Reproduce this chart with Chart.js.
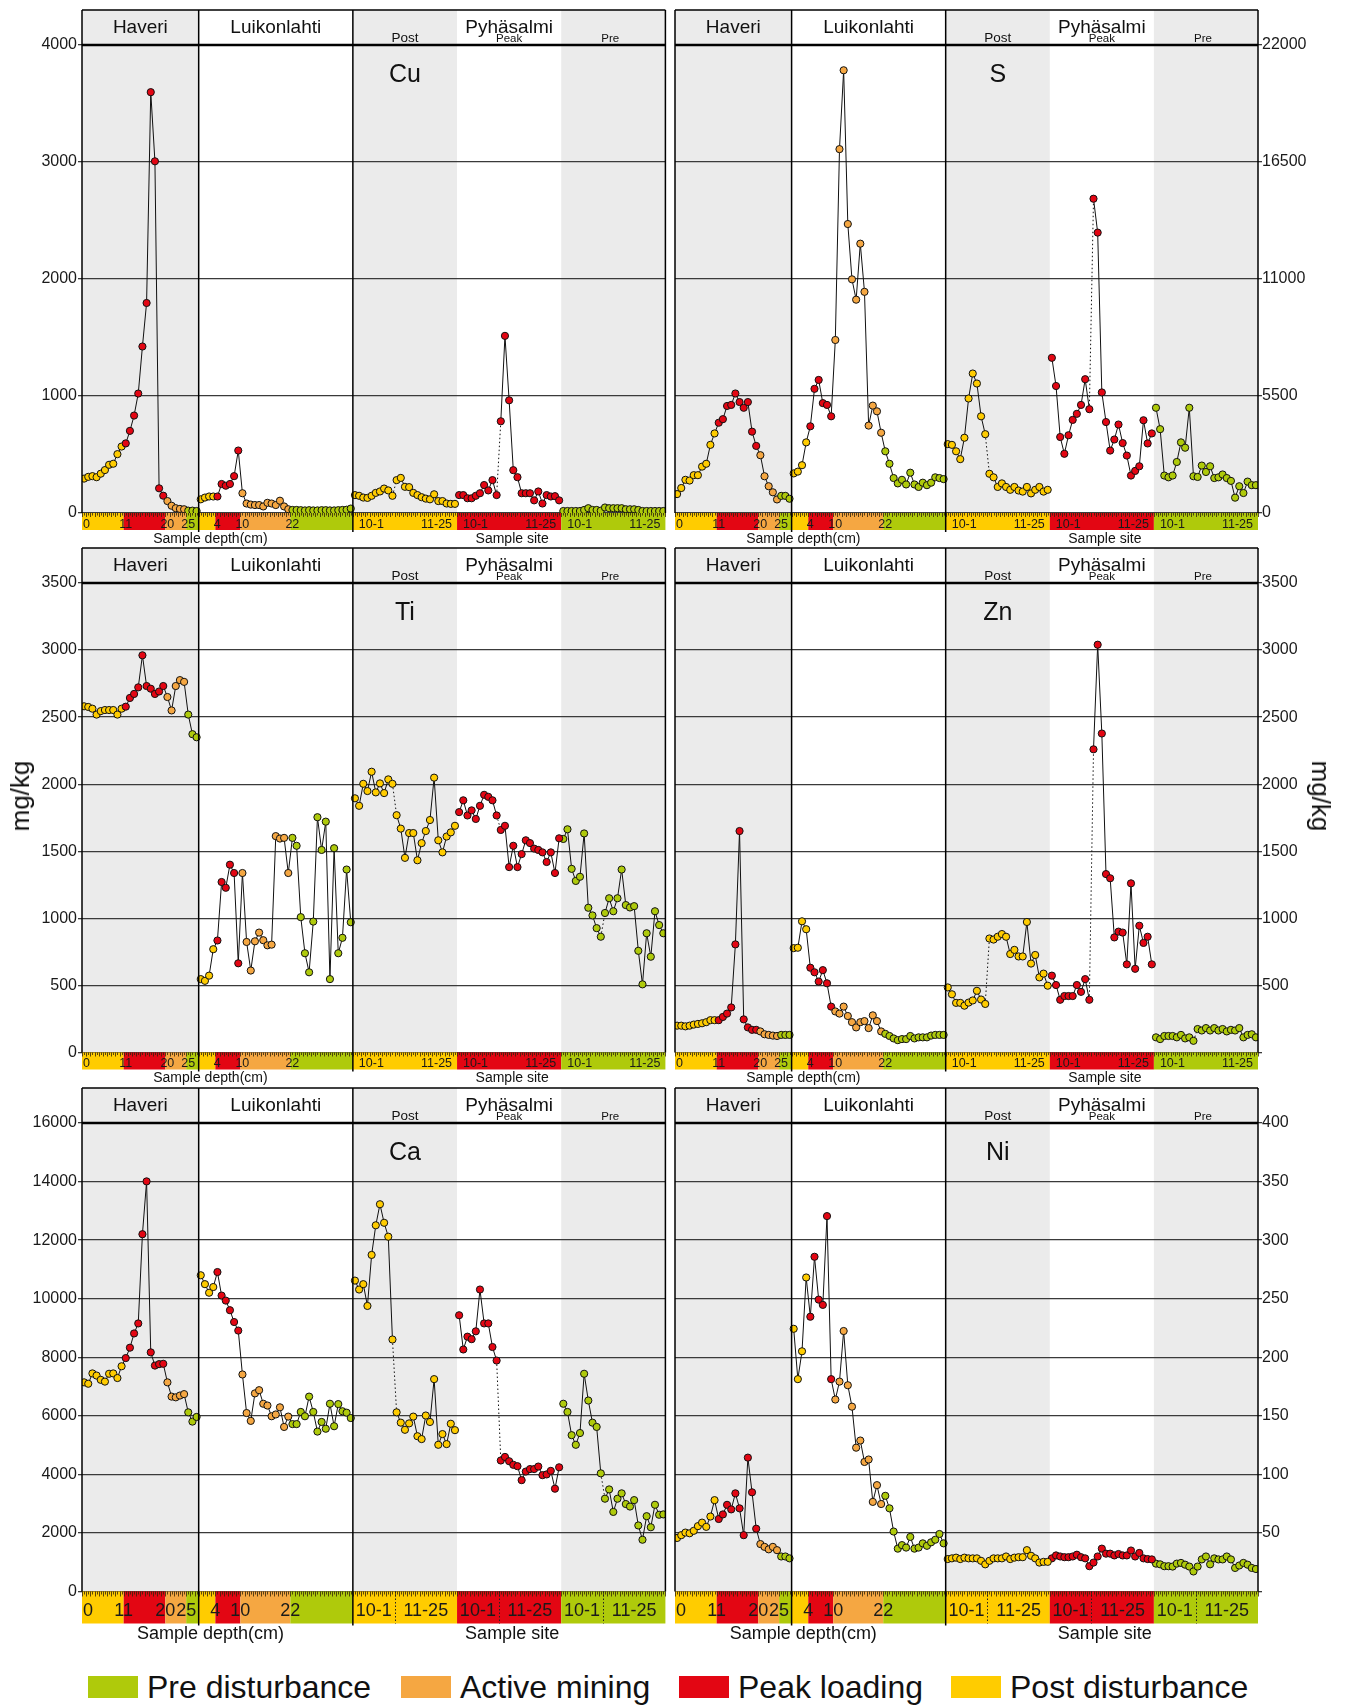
<!DOCTYPE html>
<html>
<head>
<meta charset="utf-8">
<title>Sediment element profiles</title>
<script src="https://cdn.jsdelivr.net/npm/chart.js@4.4.0/dist/chart.umd.min.js"></script>
<style>
  html, body { margin: 0; padding: 0; background: #fff; }
  #page { position: relative; width: 1348px; height: 1705px; overflow: hidden; font-family: Arial, "Liberation Sans", sans-serif; color: #111; }
  #page canvas { position: absolute; }
  .unit { position: absolute; font-size: 26px; white-space: nowrap; line-height: 26px; }
  .legend-item { position: absolute; top: 1676px; height: 22px; }
  .legend-swatch { position: absolute; left: 0; top: 0; width: 50px; height: 22px; }
  .legend-label { position: absolute; left: 59px; top: -5px; font-size: 32px; line-height: 32px; white-space: nowrap; }
</style>
</head>
<body>
<div id="page">
  <div class="unit" style="left:20px; top:796px; transform: translate(-50%, -50%) rotate(-90deg);">mg/kg</div>
  <div class="unit" style="left:1321px; top:796px; transform: translate(-50%, -50%) rotate(90deg);">mg/kg</div>
</div>
<script>
// Categories
const sites = ['Haveri', 'Luikonlahti', 'Pyhäsalmi'];
const pyhaPhases = ['Post', 'Peak', 'Pre'];
const legendLabels = ['Pre disturbance', 'Active mining', 'Peak loading', 'Post disturbance'];
const legendKeys = ['pre', 'active', 'peak', 'post'];

// samples per phase down the core: post, peak, active, pre
const haveriPhaseCounts = [10, 10, 5, 3];
const luikPhaseCounts = [4, 6, 12, 15];
// depth (cm) where each phase starts
const haveriDepthTicks = ['0', '11', '20', '25'];
const luikDepthTicks = ['', '4', '10', '22'];
// each Pyhäsalmi phase: samples of site 10, then site 11
const pyhaSiteCounts = [10, 15];
const pyhaSiteTicks = ['10-1', '11-25'];

// Cu
const cuHaveri = [294, 309, 315, 306, 336, 367, 412, 421, 503, 568, 595, 702, 833, 1021, 1423, 1795, 3597, 3006, 211, 148, 102, 62, 41, 35, 32, 20, 20, 17];
const cuLuik = [117, 132, 141, 141, 141, 248, 233, 248, 315, 534, 169, 81, 72, 68, 68, 56, 87, 81, 68, 105, 56, 32, 26, 26, 24, 22, 24, 22, 22, 24, 24, 22, 22, 24, 26, 28, 38];
const cuPost = [153, 147, 132, 129, 147, 172, 184, 209, 193, 147, 281, 300, 224, 221, 172, 153, 135, 123, 117, 160, 102, 102, 81, 78, 78];
const cuPeak = [153, 153, 126, 126, 147, 169, 239, 193, 281, 153, 784, 1514, 963, 366, 306, 169, 169, 169, 108, 184, 81, 153, 141, 144, 108];
const cuPre = [17, 17, 17, 17, 17, 26, 41, 26, 26, 20, 47, 41, 41, 41, 41, 32, 32, 32, 26, 17, 17, 17, 17, 17, 17];

// S
const sHaveri = [889, 1174, 1560, 1526, 1778, 1778, 2180, 2314, 3203, 3740, 4243, 4411, 5031, 5081, 5618, 5215, 4947, 5215, 3824, 3153, 2717, 1727, 1258, 973, 637, 805, 805, 671];
const sLuik = [1861, 1945, 2247, 3320, 4075, 5836, 6255, 5165, 5081, 4545, 8133, 17105, 20812, 13584, 10984, 10028, 12661, 10397, 4109, 5048, 4780, 3773, 2901, 2314, 1643, 1392, 1560, 1342, 1895, 1342, 1224, 1425, 1308, 1425, 1677, 1643, 1593];
const sPost = [3237, 3203, 2901, 2532, 3538, 5383, 6557, 6087, 4545, 3706, 1845, 1677, 1224, 1392, 1224, 1090, 1224, 1057, 1006, 1224, 922, 1090, 1224, 1006, 1090];
const sPeak = [7295, 5970, 3572, 2784, 3656, 4377, 4662, 5081, 6289, 4880, 14774, 13181, 5668, 4276, 2935, 3455, 4159, 3287, 2700, 1761, 1979, 2197, 4360, 3270, 3740];
const sPre = [4947, 3941, 1761, 1677, 1761, 2398, 3320, 3069, 4947, 1727, 1694, 2230, 1928, 2197, 1643, 1677, 1811, 1643, 1509, 721, 1258, 939, 1476, 1308, 1308];

// Ti
const tiHaveri = [2581, 2576, 2563, 2519, 2545, 2553, 2553, 2553, 2519, 2563, 2578, 2643, 2673, 2722, 2961, 2732, 2712, 2673, 2691, 2732, 2650, 2550, 2732, 2776, 2763, 2519, 2373, 2350];
const tiLuik = [547, 534, 573, 770, 835, 1271, 1228, 1400, 1338, 665, 1338, 824, 611, 829, 894, 837, 799, 804, 1613, 1595, 1600, 1338, 1600, 1541, 1009, 740, 598, 976, 1754, 1510, 1721, 547, 1523, 740, 855, 1364, 971];
const tiPost = [1895, 1839, 2003, 1949, 2093, 1939, 2006, 1934, 2036, 2003, 1769, 1669, 1451, 1636, 1636, 1433, 1561, 1651, 1733, 2049, 1582, 1492, 1610, 1641, 1690];
const tiPeak = [1792, 1880, 1767, 1805, 1741, 1839, 1921, 1906, 1880, 1767, 1659, 1690, 1382, 1541, 1382, 1479, 1582, 1561, 1520, 1510, 1492, 1420, 1492, 1338, 1597];
const tiPre = [1592, 1664, 1369, 1279, 1310, 1633, 1079, 1022, 927, 863, 1040, 1150, 1053, 1150, 1364, 1099, 1081, 1091, 758, 508, 889, 714, 1053, 950, 889];

// Zn
const znHaveri = [200, 200, 195, 200, 208, 213, 218, 226, 241, 241, 241, 265, 290, 336, 806, 1651, 247, 187, 169, 169, 157, 136, 131, 126, 123, 131, 131, 131];
const znLuik = [778, 781, 978, 919, 632, 598, 529, 614, 516, 342, 306, 290, 342, 272, 226, 187, 226, 234, 182, 277, 234, 157, 139, 123, 105, 92, 100, 100, 123, 105, 113, 113, 113, 126, 131, 131, 131];
const znPost = [485, 434, 370, 370, 349, 372, 388, 460, 395, 362, 850, 842, 863, 883, 863, 734, 765, 716, 716, 973, 663, 727, 560, 588, 498];
const znPeak = [573, 503, 393, 421, 421, 421, 503, 452, 547, 393, 2260, 3040, 2378, 1330, 1299, 858, 901, 894, 657, 1261, 624, 945, 817, 863, 657];
const znPre = [113, 100, 123, 123, 123, 113, 131, 105, 113, 87, 175, 164, 182, 164, 182, 164, 175, 157, 169, 164, 182, 113, 131, 136, 113];

// Ca
const caHaveri = [7143, 7095, 7448, 7375, 7229, 7168, 7436, 7448, 7290, 7692, 7972, 8326, 8813, 9155, 12202, 14006, 8167, 7716, 7765, 7777, 7143, 6656, 6631, 6692, 6741, 6119, 5802, 5961];
const caLuik = [10800, 10496, 10203, 10398, 10910, 10106, 9935, 9606, 9203, 8911, 7412, 6095, 5827, 6766, 6875, 6412, 6351, 5985, 6046, 6290, 5620, 5973, 5717, 5717, 6132, 5985, 6656, 6132, 5461, 5790, 5559, 6412, 5644, 6400, 6156, 6107, 5924];
const caPost = [10618, 10313, 10496, 9752, 11495, 12507, 13226, 12592, 12117, 8606, 6119, 5766, 5522, 5741, 5973, 5303, 5205, 6010, 5790, 7253, 5010, 5376, 5034, 5729, 5510];
const caPeak = [9435, 8265, 8703, 8618, 8886, 10313, 9155, 9155, 8350, 7887, 4474, 4596, 4449, 4327, 4279, 3803, 4096, 4181, 4181, 4267, 3974, 3998, 4120, 3511, 4242];
const caPre = [6412, 6132, 5339, 5010, 5412, 7436, 6522, 5766, 5620, 4035, 3169, 3486, 2718, 3169, 3352, 2987, 2901, 3121, 2255, 1768, 2572, 2194, 2962, 2621, 2633];

// Ni
const niHaveri = [45.7, 48.1, 50.3, 49.7, 51.8, 55.8, 58.8, 55.2, 64.0, 78.0, 61.9, 65.8, 74.0, 70.1, 83.8, 71.0, 48.1, 114.3, 84.7, 53.6, 40.5, 38.1, 36.0, 38.1, 35.3, 29.9, 29.9, 28.3];
const niLuik = [224.3, 181.3, 205.1, 268.1, 234.6, 285.8, 249.2, 244.7, 320.5, 181.3, 163.9, 179.2, 222.4, 176.1, 157.8, 122.8, 128.9, 110.6, 112.7, 76.5, 90.8, 74.7, 81.7, 71.0, 51.2, 36.6, 39.6, 37.5, 46.6, 36.6, 37.5, 41.1, 39.0, 42.0, 44.2, 49.1, 41.1];
const niPost = [27.7, 28.3, 28.9, 27.7, 28.9, 28.3, 28.3, 28.3, 26.2, 23.2, 26.2, 28.3, 28.3, 28.3, 29.9, 27.7, 28.9, 29.3, 29.3, 35.3, 30.5, 28.3, 24.7, 25.3, 25.3];
const niPeak = [28.3, 30.8, 29.9, 29.3, 29.3, 29.9, 31.4, 29.3, 28.3, 21.6, 24.7, 29.9, 36.6, 32.3, 32.3, 30.8, 32.0, 30.8, 30.8, 35.0, 29.9, 32.9, 28.3, 27.7, 27.4];
const niPre = [23.8, 23.2, 21.6, 21.6, 21.3, 23.8, 24.4, 22.9, 21.3, 17.1, 21.3, 27.4, 29.9, 23.2, 28.3, 27.4, 27.4, 29.9, 27.4, 20.1, 22.2, 24.4, 22.9, 20.1, 19.2];

// Styles / layout
const phaseColors = { pre: '#afca0b', active: '#f5a742', peak: '#e30613', post: '#ffcc00' };
const depthOrder = ['post', 'peak', 'active', 'pre'];
const SHADE = '#ebebeb';
const HEADER_H = 35;
const ROWS = [
    { canvasTop: 0, height: 550, top: 45, bottom: 513, barH: 17, big: false },
    { canvasTop: 540, height: 550, top: 583, bottom: 1052.5, barH: 17, big: false },
    { canvasTop: 1080, height: 570, top: 1123, bottom: 1591.5, barH: 32, big: true }
];
const SIDES = {
    left: { x: 0, width: 670, padLeft: 0, padRight: 4, axisW: 82 },
    right: { x: 670, width: 678, padLeft: 5, padRight: 0, axisW: 90 }
};

const panels = [
    { name: 'Cu', row: 0, side: 'left', max: 4000, step: 1000, zero: true, series: [cuHaveri, cuLuik, cuPost, cuPeak, cuPre] },
    { name: 'S', row: 0, side: 'right', max: 22000, step: 5500, zero: true, series: [sHaveri, sLuik, sPost, sPeak, sPre] },
    { name: 'Ti', row: 1, side: 'left', max: 3500, step: 500, zero: true, series: [tiHaveri, tiLuik, tiPost, tiPeak, tiPre] },
    { name: 'Zn', row: 1, side: 'right', max: 3500, step: 500, zero: false, series: [znHaveri, znLuik, znPost, znPeak, znPre] },
    { name: 'Ca', row: 2, side: 'left', max: 16000, step: 2000, zero: true, series: [caHaveri, caLuik, caPost, caPeak, caPre] },
    { name: 'Ni', row: 2, side: 'right', max: 400, step: 50, zero: false, series: [niHaveri, niLuik, niPost, niPeak, niPre] }
];

function colorsFromCounts(counts) {
    const out = [];
    counts.forEach((n, k) => { for (let i = 0; i < n; i++) out.push(phaseColors[depthOrder[k]]); });
    return out;
}

function lineDataset(values, x0, colors, dashAfter) {
    return {
        data: values.map((v, i) => ({ x: x0 + i + 0.5, y: v })),
        borderColor: '#111',
        borderWidth: 1,
        tension: 0,
        pointRadius: 3.6,
        pointHoverRadius: 3.6,
        pointBorderWidth: 1,
        pointBorderColor: '#111',
        pointBackgroundColor: colors,
        segment: {
            borderDash: ctx => (dashAfter !== undefined && ctx.p0DataIndex === dashAfter) ? [1.5, 2.5] : undefined
        }
    };
}

function line(ctx, x1, y1, x2, y2) {
    ctx.beginPath();
    ctx.moveTo(x1, y1);
    ctx.lineTo(x2, y2);
    ctx.stroke();
}

// Header, shading, colour bar and labels around each panel
const panelDecor = {
    id: 'panelDecor',
    beforeDraw(chart, args, o) {
        const { ctx, chartArea: a, scales: { x } } = chart;
        const hTop = a.top - HEADER_H;
        ctx.save();
        ctx.fillStyle = SHADE;
        o.columns.forEach(c => {
            if (!c.shade) return;
            const l = x.getPixelForValue(c.x0), r = x.getPixelForValue(c.x1);
            ctx.fillRect(l, hTop, r - l, a.bottom - hTop);
        });
        ctx.restore();
    },
    afterDraw(chart, args, o) {
        const { ctx, chartArea: a, scales: { x } } = chart;
        const px = u => x.getPixelForValue(u);
        const hTop = a.top - HEADER_H;
        const bTop = a.bottom, bBot = a.bottom + o.barH;
        ctx.save();

        // colour bar
        o.bands.forEach(b => {
            ctx.fillStyle = b.color;
            ctx.fillRect(px(b.x0), bTop, px(b.x1) - px(b.x0), o.barH);
        });
        // ruler ticks
        ctx.strokeStyle = 'rgba(50,35,10,0.8)';
        ctx.lineWidth = 1;
        for (let u = 0; u <= o.xMax; u += 0.5) {
            const p = Math.round(px(u)) + 0.5;
            const len = (u % 1 === 0) ? (o.big ? 5 : 4) : (o.big ? 3 : 2.5);
            line(ctx, p, bTop, p, bTop + len);
        }
        // site 10 / 11 separators (bottom row)
        if (o.big) {
            ctx.setLineDash([1.5, 2]);
            ctx.strokeStyle = '#222';
            o.pyhaStarts.forEach(s => {
                const p = Math.round(px(s + pyhaSiteCounts[0])) + 0.5;
                line(ctx, p, bTop, p, bBot);
            });
            ctx.setLineDash([]);
        }

        // bar labels
        ctx.fillStyle = '#1a1a1a';
        ctx.font = (o.big ? 18 : 12.5) + 'px Arial';
        ctx.textBaseline = 'alphabetic';
        const base = bTop + (o.big ? 24 : 14.5);
        o.depthLabels.forEach(d => {
            let u = d.x0;
            d.counts.forEach((n, k) => {
                const lab = d.labels[k];
                if (lab) {
                    if (k === 0) {
                        ctx.textAlign = 'left';
                        ctx.fillText(lab, px(u) + 1, base);
                    } else {
                        ctx.textAlign = 'center';
                        ctx.fillText(lab, px(u) + (o.big ? 0 : 2), base);
                    }
                }
                u += n;
            });
        });
        o.pyhaStarts.forEach(s => {
            const n0 = pyhaSiteCounts[0], n1 = pyhaSiteCounts[1];
            if (o.big) {
                ctx.textAlign = 'center';
                ctx.fillText(pyhaSiteTicks[0], px(s + n0 / 2), base);
                ctx.fillText(pyhaSiteTicks[1], px(s + n0 + n1 / 2), base);
            } else {
                ctx.textAlign = 'left';
                ctx.fillText(pyhaSiteTicks[0], px(s) + 6, base);
                ctx.textAlign = 'right';
                ctx.fillText(pyhaSiteTicks[1], px(s + n0 + n1) - 5, base);
            }
        });

        // axis titles under the bar
        ctx.fillStyle = '#111';
        ctx.font = (o.big ? 18 : 14) + 'px Arial';
        ctx.textAlign = 'center';
        ctx.textBaseline = 'middle';
        const ty = bBot + (o.big ? 11 : 9);
        ctx.fillText('Sample depth(cm)', (a.left + px(o.pyhaStarts[0])) / 2 - 7, ty);
        ctx.fillText('Sample site', px(o.pyhaStarts[1] + o.phaseLen / 2) + 3, ty);

        // borders and site dividers
        ctx.strokeStyle = '#000';
        ctx.lineWidth = 1.5;
        line(ctx, a.left, hTop, a.right, hTop);
        line(ctx, a.left, hTop, a.left, a.bottom);
        line(ctx, a.right, hTop, a.right, a.bottom);
        o.siteEdges.forEach(u => line(ctx, px(u), hTop, px(u), bBot + 2));
        ctx.lineWidth = 2.5;
        line(ctx, a.left, a.top, a.right, a.top);

        // header text
        ctx.fillStyle = '#111';
        ctx.textBaseline = 'alphabetic';
        ctx.textAlign = 'center';
        ctx.font = '19px Arial';
        o.siteCentres.forEach((u, i) => ctx.fillText(sites[i], px(u), hTop + 22.5));
        ctx.font = '13.5px Arial';
        ctx.fillText(pyhaPhases[0], px(o.pyhaStarts[0] + o.phaseLen / 2), a.top - 3.5);
        ctx.font = '11.5px Arial';
        ctx.fillText(pyhaPhases[1], px(o.pyhaStarts[1] + o.phaseLen / 2), a.top - 3);
        ctx.fillText(pyhaPhases[2], px(o.pyhaStarts[2] + o.phaseLen / 2) - 3, a.top - 3);

        // element name
        ctx.font = '25px Arial';
        ctx.fillText(o.name, px(o.pyhaStarts[0] + o.phaseLen / 2), a.top + 37);
        ctx.restore();
    }
};

const page = document.getElementById('page');

panels.forEach(p => {
    const row = ROWS[p.row];
    const side = SIDES[p.side];
    const [hav, luik, post, peak, pre] = p.series;
    const nH = hav.length, nL = luik.length, phaseLen = post.length;
    const pyStart = nH + nL;
    const pyhaStarts = [pyStart, pyStart + phaseLen, pyStart + 2 * phaseLen];
    const xMax = pyStart + 3 * phaseLen;

    const bands = [];
    [[0, haveriPhaseCounts], [nH, luikPhaseCounts]].forEach(([x0, counts]) => {
        let u = x0;
        counts.forEach((n, k) => { bands.push({ x0: u, x1: u + n, color: phaseColors[depthOrder[k]] }); u += n; });
    });
    ['post', 'peak', 'pre'].forEach((k, i) => bands.push({ x0: pyhaStarts[i], x1: pyhaStarts[i] + phaseLen, color: phaseColors[k] }));

    const dashAt = pyhaSiteCounts[0] - 1;
    const datasets = [
        lineDataset(hav, 0, colorsFromCounts(haveriPhaseCounts)),
        lineDataset(luik, nH, colorsFromCounts(luikPhaseCounts)),
        lineDataset(post, pyhaStarts[0], phaseColors.post, dashAt),
        lineDataset(peak, pyhaStarts[1], phaseColors.peak, dashAt),
        lineDataset(pre, pyhaStarts[2], phaseColors.pre, dashAt)
    ];

    const canvas = document.createElement('canvas');
    canvas.width = side.width;
    canvas.height = row.height;
    canvas.style.left = side.x + 'px';
    canvas.style.top = row.canvasTop + 'px';
    canvas.style.width = side.width + 'px';
    canvas.style.height = row.height + 'px';
    page.insertBefore(canvas, page.firstChild);

    new Chart(canvas, {
        type: 'line',
        data: { datasets },
        options: {
            responsive: false,
            animation: false,
            events: [],
            layout: {
                padding: {
                    left: side.padLeft,
                    right: side.padRight,
                    top: row.top - row.canvasTop,
                    bottom: row.canvasTop + row.height - row.bottom
                }
            },
            scales: {
                x: { type: 'linear', min: 0, max: xMax, display: false },
                y: {
                    position: p.side,
                    min: 0,
                    max: p.max,
                    afterFit(scale) { scale.width = side.axisW; },
                    border: { display: false },
                    grid: { color: '#3a3a3a', lineWidth: 1.3, tickLength: 4, drawTicks: true },
                    ticks: {
                        stepSize: p.step,
                        padding: p.side === 'left' ? 1 : 0,
                        color: '#1a1a1a',
                        font: { family: 'Arial', size: 16 },
                        callback: v => (v === 0 && !p.zero) ? '' : String(v)
                    }
                }
            },
            plugins: {
                legend: { display: false },
                tooltip: { enabled: false },
                panelDecor: {
                    name: p.name,
                    big: row.big,
                    barH: row.barH,
                    xMax,
                    phaseLen,
                    pyhaStarts,
                    bands,
                    columns: [
                        { x0: 0, x1: nH, shade: true },
                        { x0: nH, x1: pyStart, shade: false },
                        { x0: pyhaStarts[0], x1: pyhaStarts[1], shade: true },
                        { x0: pyhaStarts[1], x1: pyhaStarts[2], shade: false },
                        { x0: pyhaStarts[2], x1: xMax, shade: true }
                    ],
                    siteEdges: [nH, pyStart],
                    siteCentres: [nH / 2, nH + nL / 2, pyStart + 1.5 * phaseLen],
                    depthLabels: [
                        { x0: 0, counts: haveriPhaseCounts, labels: haveriDepthTicks },
                        { x0: nH, counts: luikPhaseCounts, labels: luikDepthTicks }
                    ]
                }
            }
        },
        plugins: [panelDecor]
    });
});

// Legend
const legendLeft = [88, 401, 679, 951];
legendLabels.forEach((label, i) => {
    const item = document.createElement('div');
    item.className = 'legend-item';
    item.style.left = legendLeft[i] + 'px';
    item.innerHTML = `<div class="legend-swatch" style="background:${phaseColors[legendKeys[i]]}"></div>` +
        `<div class="legend-label">${label}</div>`;
    page.appendChild(item);
});
</script>
</body>
</html>
